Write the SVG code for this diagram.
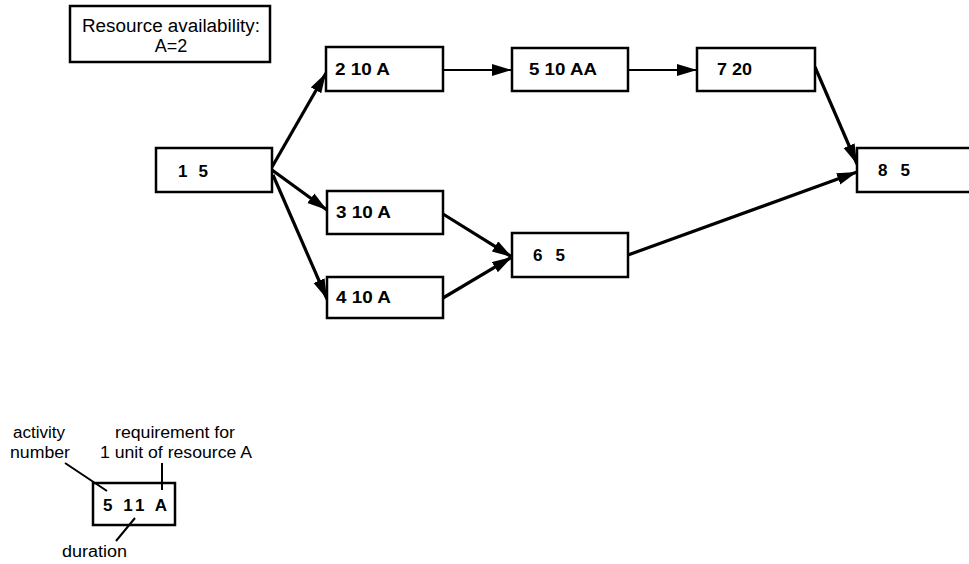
<svg xmlns="http://www.w3.org/2000/svg" width="969" height="564" viewBox="0 0 969 564">
<style>
.box{fill:#fff;stroke:#000;stroke-width:2.5}
.lbl{font-family:"Liberation Sans",Arial,sans-serif;font-weight:bold;font-size:17px;fill:#000}
.txt{font-family:"Liberation Sans",Arial,sans-serif;font-size:18px;fill:#000}
.lg{font-family:"Liberation Sans",Arial,sans-serif;font-size:16px;fill:#000}
.arr{fill:none;stroke:#000;stroke-width:3.2;marker-end:url(#ah)}
.thin{fill:none;stroke:#000;stroke-width:2.2;marker-end:url(#ah)}
.ln{fill:none;stroke:#000;stroke-width:2}
</style>
<defs>
<marker id="ah" markerUnits="userSpaceOnUse" markerWidth="22" markerHeight="14" refX="20" refY="6" orient="auto">
<path d="M0,0 L20,6 L0,12 z" fill="#000"/>
</marker>
</defs>
<rect width="969" height="564" fill="#fff"/>
<g id="resource">
<rect class="box" x="70" y="6" width="200" height="56" stroke-width="2"/>
<text class="txt" x="171" y="32" text-anchor="middle" textLength="178" lengthAdjust="spacingAndGlyphs">Resource availability:</text>
<text class="txt" x="171" y="52" text-anchor="middle">A=2</text>
</g>
<g id="connectors">
<line class="arr" x1="272" y1="167" x2="326" y2="73"/>
<line class="arr" x1="272" y1="170" x2="327" y2="210"/>
<line class="arr" x1="273" y1="175" x2="327" y2="299"/>
<line class="thin" x1="443" y1="70" x2="512" y2="70"/>
<line class="thin" x1="628" y1="70" x2="697" y2="70"/>
<line class="arr" x1="815" y1="67" x2="857" y2="164"/>
<line class="arr" x1="443" y1="214" x2="512" y2="257"/>
<line class="arr" x1="443" y1="298" x2="512" y2="257"/>
<line class="arr" x1="628" y1="255" x2="857" y2="172"/>
</g>
<g id="n1"><rect class="box" x="156" y="148" width="116" height="44"/><text class="lbl" x="178" y="177" textLength="30" lengthAdjust="spacing">1 5</text></g>
<g id="n2"><rect class="box" x="326" y="47" width="117" height="44"/><text class="lbl" x="335" y="75" textLength="55" lengthAdjust="spacingAndGlyphs">2 10 A</text></g>
<g id="n3"><rect class="box" x="327" y="191" width="116" height="43"/><text class="lbl" x="336" y="218" textLength="55" lengthAdjust="spacingAndGlyphs">3 10 A</text></g>
<g id="n4"><rect class="box" x="327" y="277" width="116" height="41"/><text class="lbl" x="336" y="303" textLength="55" lengthAdjust="spacingAndGlyphs">4 10 A</text></g>
<g id="n5"><rect class="box" x="512" y="48" width="116" height="43"/><text class="lbl" x="529" y="75" textLength="68" lengthAdjust="spacingAndGlyphs">5 10 AA</text></g>
<g id="n6"><rect class="box" x="512" y="233" width="116" height="44"/><text class="lbl" x="533" y="261" textLength="32" lengthAdjust="spacing">6 5</text></g>
<g id="n7"><rect class="box" x="697" y="48" width="118" height="43"/><text class="lbl" x="717" y="75" textLength="35" lengthAdjust="spacingAndGlyphs">7 20</text></g>
<g id="n8"><rect class="box" x="857" y="148" width="120" height="44"/><text class="lbl" x="878" y="176" textLength="32" lengthAdjust="spacing">8 5</text></g>
<g id="legend">
<rect class="box" x="93" y="483" width="82" height="42"/>
<text class="lbl" x="103" y="511" textLength="64" lengthAdjust="spacing">5 11 A</text>
<text class="lg" x="13" y="438" textLength="52" lengthAdjust="spacingAndGlyphs">activity</text>
<text class="lg" x="10" y="458" textLength="60" lengthAdjust="spacingAndGlyphs">number</text>
<text class="lg" x="115" y="438" textLength="120" lengthAdjust="spacingAndGlyphs">requirement for</text>
<text class="lg" x="100" y="458" textLength="152" lengthAdjust="spacingAndGlyphs">1 unit of resource A</text>
<text class="lg" x="62" y="557" textLength="65" lengthAdjust="spacingAndGlyphs">duration</text>
<line class="ln" x1="65" y1="463" x2="107" y2="491"/>
<line class="ln" x1="162" y1="463" x2="162" y2="490"/>
<line class="ln" x1="135" y1="518" x2="116" y2="541"/>
</g>
</svg>
